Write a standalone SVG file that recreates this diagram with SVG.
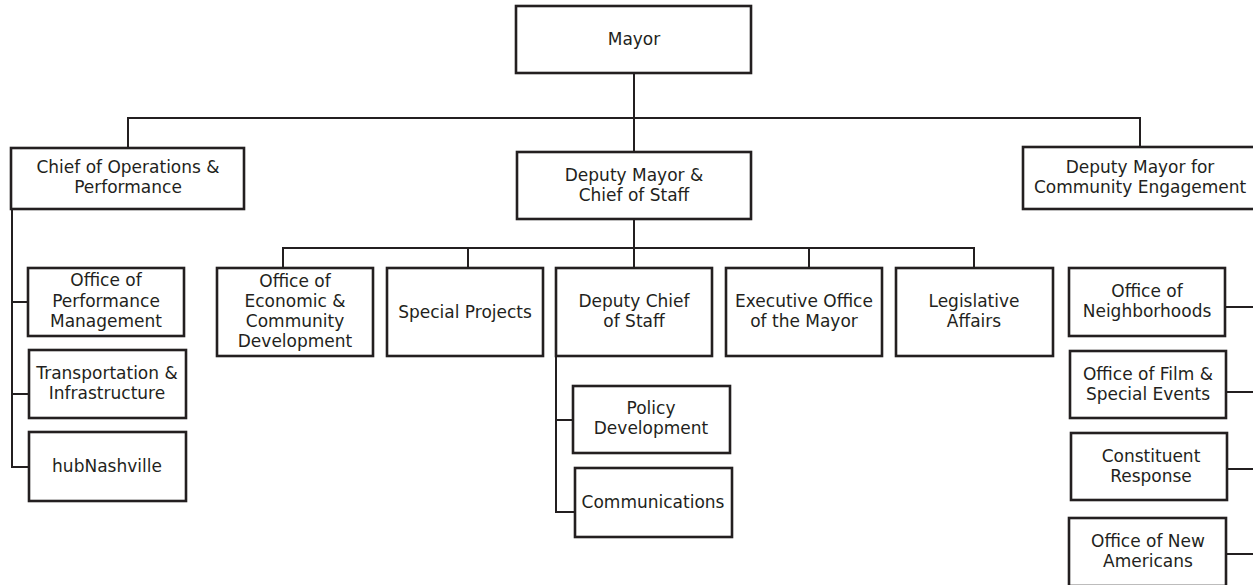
<svg xmlns="http://www.w3.org/2000/svg" width="1253" height="585" viewBox="0 0 1253 585">
  <style>
    .box { fill: #ffffff; stroke: #231f20; stroke-width: 2.6; }
    .lbl { font-family: "DejaVu Sans", Verdana, sans-serif; font-size: 17px; fill: #231f20; text-anchor: middle; }
    .wire { fill: none; stroke: #231f20; stroke-width: 2; }
  </style>
  <rect width="1253" height="585" fill="#ffffff"/>

  <!-- reporting lines -->
  <g id="connectors">
    <path class="wire" d="M634,73 V152"/>
    <path class="wire" d="M128,148 V118 H1140 V147"/>
    <path class="wire" d="M634,219 V268"/>
    <path class="wire" d="M283,268 V248 H974 V268"/>
    <path class="wire" d="M468,248 V268"/>
    <path class="wire" d="M809,248 V268"/>
    <path class="wire" d="M12,209 V467 H29"/>
    <path class="wire" d="M12,302 H28"/>
    <path class="wire" d="M12,394 H29"/>
    <path class="wire" d="M556,356 V512 H575"/>
    <path class="wire" d="M556,420 H573"/>
    <path class="wire" d="M1225,307 H1260"/>
    <path class="wire" d="M1226,392 H1260"/>
    <path class="wire" d="M1227,469 H1260"/>
    <path class="wire" d="M1226,554 H1260"/>
  </g>

  <g id="mayor">
    <rect class="box" x="516" y="6" width="235" height="67"/>
    <text class="lbl" x="634" y="45">Mayor</text>
  </g>

  <g id="chief-operations">
    <rect class="box" x="11" y="148" width="233" height="61"/>
    <text class="lbl" x="128" y="173">Chief of Operations &amp;</text>
    <text class="lbl" x="128" y="193">Performance</text>
  </g>

  <g id="deputy-mayor-chief-of-staff">
    <rect class="box" x="517" y="152" width="234" height="67"/>
    <text class="lbl" x="634" y="181">Deputy Mayor &amp;</text>
    <text class="lbl" x="634" y="201">Chief of Staff</text>
  </g>

  <g id="deputy-mayor-community">
    <rect class="box" x="1023" y="147" width="234" height="62"/>
    <text class="lbl" x="1140" y="173">Deputy Mayor for</text>
    <text class="lbl" x="1140" y="193">Community Engagement</text>
  </g>

  <g id="performance-management">
    <rect class="box" x="28" y="268" width="156" height="68"/>
    <text class="lbl" x="106" y="286">Office of</text>
    <text class="lbl" x="106" y="307">Performance</text>
    <text class="lbl" x="106" y="327">Management</text>
  </g>

  <g id="transportation">
    <rect class="box" x="29" y="350" width="157" height="68"/>
    <text class="lbl" x="107" y="379">Transportation &amp;</text>
    <text class="lbl" x="107" y="399">Infrastructure</text>
  </g>

  <g id="hubnashville">
    <rect class="box" x="29" y="432" width="157" height="69"/>
    <text class="lbl" x="107" y="472">hubNashville</text>
  </g>

  <g id="economic-development">
    <rect class="box" x="217" y="268" width="156" height="88"/>
    <text class="lbl" x="295" y="287">Office of</text>
    <text class="lbl" x="295" y="307">Economic &amp;</text>
    <text class="lbl" x="295" y="327">Community</text>
    <text class="lbl" x="295" y="347">Development</text>
  </g>

  <g id="special-projects">
    <rect class="box" x="387" y="268" width="156" height="88"/>
    <text class="lbl" x="465" y="318">Special Projects</text>
  </g>

  <g id="deputy-chief-of-staff">
    <rect class="box" x="556" y="268" width="156" height="88"/>
    <text class="lbl" x="634" y="307">Deputy Chief</text>
    <text class="lbl" x="634" y="327">of Staff</text>
  </g>

  <g id="executive-office">
    <rect class="box" x="726" y="268" width="156" height="88"/>
    <text class="lbl" x="804" y="307">Executive Office</text>
    <text class="lbl" x="804" y="327">of the Mayor</text>
  </g>

  <g id="legislative-affairs">
    <rect class="box" x="896" y="268" width="157" height="88"/>
    <text class="lbl" x="974" y="307">Legislative</text>
    <text class="lbl" x="974" y="327">Affairs</text>
  </g>

  <g id="policy-development">
    <rect class="box" x="573" y="386" width="157" height="67"/>
    <text class="lbl" x="651" y="414">Policy</text>
    <text class="lbl" x="651" y="434">Development</text>
  </g>

  <g id="communications">
    <rect class="box" x="575" y="468" width="157" height="69"/>
    <text class="lbl" x="653" y="508">Communications</text>
  </g>

  <g id="neighborhoods">
    <rect class="box" x="1069" y="268" width="156" height="68"/>
    <text class="lbl" x="1147" y="297">Office of</text>
    <text class="lbl" x="1147" y="317">Neighborhoods</text>
  </g>

  <g id="film-special-events">
    <rect class="box" x="1070" y="351" width="156" height="67"/>
    <text class="lbl" x="1148" y="380">Office of Film &amp;</text>
    <text class="lbl" x="1148" y="400">Special Events</text>
  </g>

  <g id="constituent-response">
    <rect class="box" x="1071" y="433" width="156" height="67"/>
    <text class="lbl" x="1151" y="462">Constituent</text>
    <text class="lbl" x="1151" y="482">Response</text>
  </g>

  <g id="new-americans">
    <rect class="box" x="1069" y="518" width="157" height="68"/>
    <text class="lbl" x="1148" y="547">Office of New</text>
    <text class="lbl" x="1148" y="567">Americans</text>
  </g>
</svg>
